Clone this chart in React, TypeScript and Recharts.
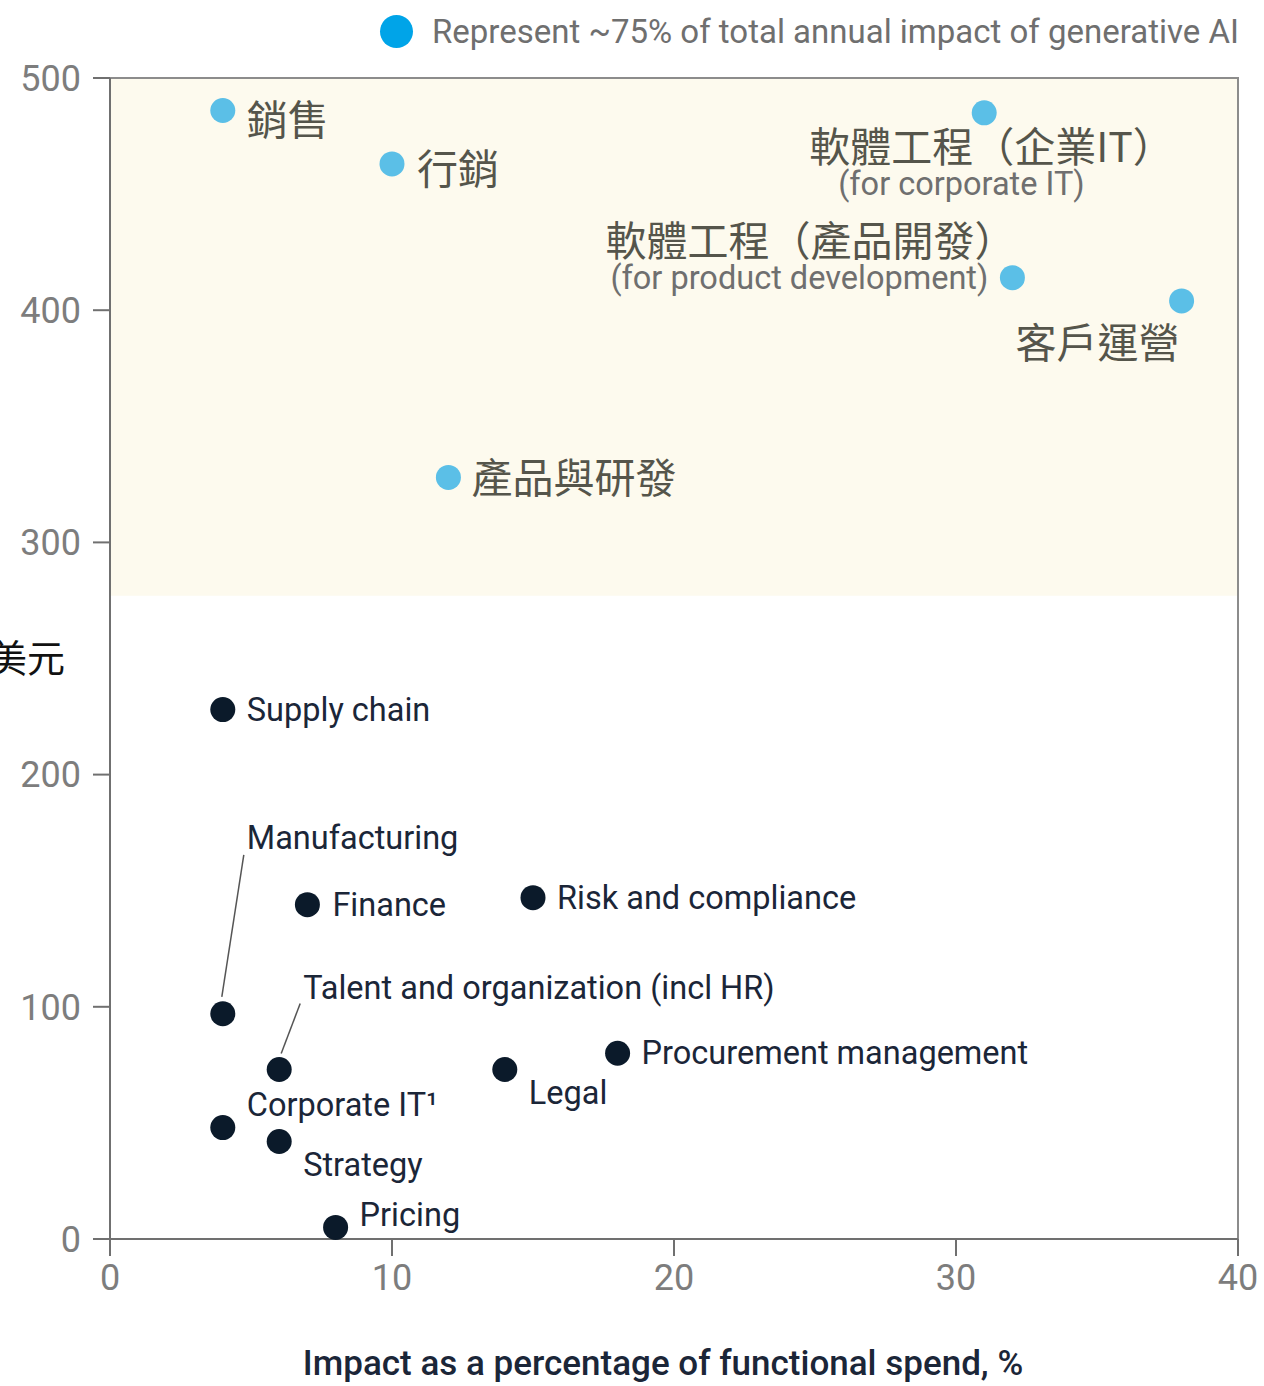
import React from 'react';
import { ScatterChart, Scatter, XAxis, YAxis, ReferenceArea, Legend } from 'recharts';

// functions that make up ~75% of the impact (blue dots)
const highNames = ['銷售', '行銷', '軟體工程（企業IT）', '軟體工程（產品開發）', '客戶運營', '產品與研發'];
const highSubs = ['', '', '(for corporate IT)', '(for product development)', '', ''];
const highSpend = [4, 10, 31, 32, 38, 12];
const highValue = [486, 463, 485, 414, 404, 328];

// the rest (dark dots)
const otherNames = [
  'Supply chain',
  'Manufacturing',
  'Finance',
  'Risk and compliance',
  'Talent and organization (incl HR)',
  'Procurement management',
  'Legal',
  'Corporate IT¹',
  'Strategy',
  'Pricing',
];
const otherSpend = [4, 4, 7, 15, 6, 18, 14, 4, 6, 8];
const otherValue = [228, 97, 144, 147, 73, 80, 73, 48, 42, 5];

const xTicks = [0, 10, 20, 30, 40];
const yTicks = [0, 100, 200, 300, 400, 500];
const shadeFrom = 277;
const legendText = 'Represent ~75% of total annual impact of generative AI';
const xTitle = 'Impact as a percentage of functional spend, %';
const yUnit = '美元';

const highData = highNames.map((name, i) => ({ name, sub: highSubs[i], x: highSpend[i], y: highValue[i] }));
const otherData = otherNames.map((name, i) => ({ name, sub: '', x: otherSpend[i], y: otherValue[i] }));

// label placement relative to the dot
type Place = { dx: number; dy: number; subDx?: number; subDy?: number; lead?: number[] };
const places: Record<string, Place> = {
  '銷售': { dx: 24, dy: 6 },
  '行銷': { dx: 25, dy: 2 },
  '軟體工程（企業IT）': { dx: -175, dy: 31, subDx: -146, subDy: 71 },
  '軟體工程（產品開發）': { dx: -407, dy: -40, subDx: -402, subDy: 0 },
  '客戶運營': { dx: -166, dy: 39 },
  '產品與研發': { dx: 23, dy: -2 },
  'Manufacturing': { dx: 24, dy: -176, lead: [-1, -17, 21, -159] },
  'Finance': { dx: 25, dy: 0 },
  'Talent and organization (incl HR)': { dx: 24, dy: -81, lead: [2, -16, 21, -66] },
  'Legal': { dx: 24, dy: 24 },
  'Corporate IT¹': { dx: 24, dy: -23 },
  'Strategy': { dx: 24, dy: 24 },
  'Pricing': { dx: 24, dy: -12 },
};

const CJK = '"Noto Sans CJK TC", "Noto Sans", sans-serif';
const LATIN = 'Roboto, sans-serif';

const makeDot = (color: string, cjk: boolean) => (props: any) => {
  const { cx, cy, payload } = props;
  const p = places[payload.name] ?? { dx: 24, dy: 0 };
  return (
    <g>
      {p.lead && (
        <line
          x1={cx + p.lead[0]}
          y1={cy + p.lead[1]}
          x2={cx + p.lead[2]}
          y2={cy + p.lead[3]}
          stroke='#555'
          strokeWidth={1.5}
        />
      )}
      <circle cx={cx} cy={cy} r={12.5} fill={color} />
      <text
        x={cx + p.dx}
        y={cy + p.dy}
        dominantBaseline='central'
        fontFamily={cjk ? CJK : LATIN}
        fontSize={cjk ? 41 : 32.5}
        fill={cjk ? '#55554b' : '#1b2638'}
      >
        {payload.name}
      </text>
      {payload.sub && (
        <text
          x={cx + (p.subDx ?? 0)}
          y={cy + (p.subDy ?? 0)}
          dominantBaseline='central'
          fontFamily={LATIN}
          fontSize={32.5}
          fill='#6f6f6f'
        >
          {payload.sub}
        </text>
      )}
    </g>
  );
};

const LegendBox = () => (
	<div style={{ display: 'flex', alignItems: 'center', fontFamily: LATIN }}>
		<span
			style={{
				width: 33,
				height: 33,
				borderRadius: '50%',
				background: '#00a4e8',
				display: 'inline-block',
			}}
		/>
		<span style={{ marginLeft: 19, fontSize: 33, color: '#6f6f6f', whiteSpace: 'nowrap' }}>{legendText}</span>
	</div>
);

export default function App() {
	return (
		<div style={{ position: 'absolute', left: 0, top: 0 }}>
			<ScatterChart
				width={1264}
				height={1386}
				margin={{ top: 78, right: 26, bottom: 87, left: 0 }}
				style={{ fontFamily: LATIN }}
			>
				<ReferenceArea x1={0} x2={40} y1={shadeFrom} y2={500} fill='#fdfaee' fillOpacity={1} stroke='none' />
				<ReferenceArea x1={0} x2={40} y1={0} y2={500} fill='none' stroke='#8c8c8c' strokeWidth={2} />
				<XAxis
					type='number'
					dataKey='x'
					domain={[0, 40]}
					ticks={xTicks}
					height={60}
					tickSize={17}
					tickMargin={8}
					axisLine={{ stroke: '#707070', strokeWidth: 2 }}
					tickLine={{ stroke: '#707070', strokeWidth: 2 }}
					tick={{ fill: '#7d7d7d', fontSize: 36 }}
					label={{
						value: xTitle,
						position: 'bottom',
						offset: 51,
						dx: -11,
						fill: '#1b2638',
						fontSize: 35,
						fontWeight: 500,
					}}
				/>
				<YAxis
					type='number'
					dataKey='y'
					domain={[0, 500]}
					ticks={yTicks}
					width={110}
					tickSize={17}
					tickMargin={12}
					axisLine={{ stroke: '#707070', strokeWidth: 2 }}
					tickLine={{ stroke: '#707070', strokeWidth: 2 }}
					tick={{ fill: '#7d7d7d', fontSize: 36 }}
					label={{
						value: yUnit,
						position: 'insideLeft',
						offset: -11,
						fill: '#111',
						fontSize: 38,
						fontFamily: CJK,
					}}
				/>
				<Legend
					layout='horizontal'
					verticalAlign='middle'
					align='center'
					wrapperStyle={{ top: 12, left: 380, width: 880, height: 36 }}
					content={() => <LegendBox />}
				/>
				<Scatter data={highData} shape={makeDot('#5bbfe7', true)} isAnimationActive={false} />
				<Scatter data={otherData} shape={makeDot('#0b1a2a', false)} isAnimationActive={false} />
			</ScatterChart>
		</div>
	);
}
